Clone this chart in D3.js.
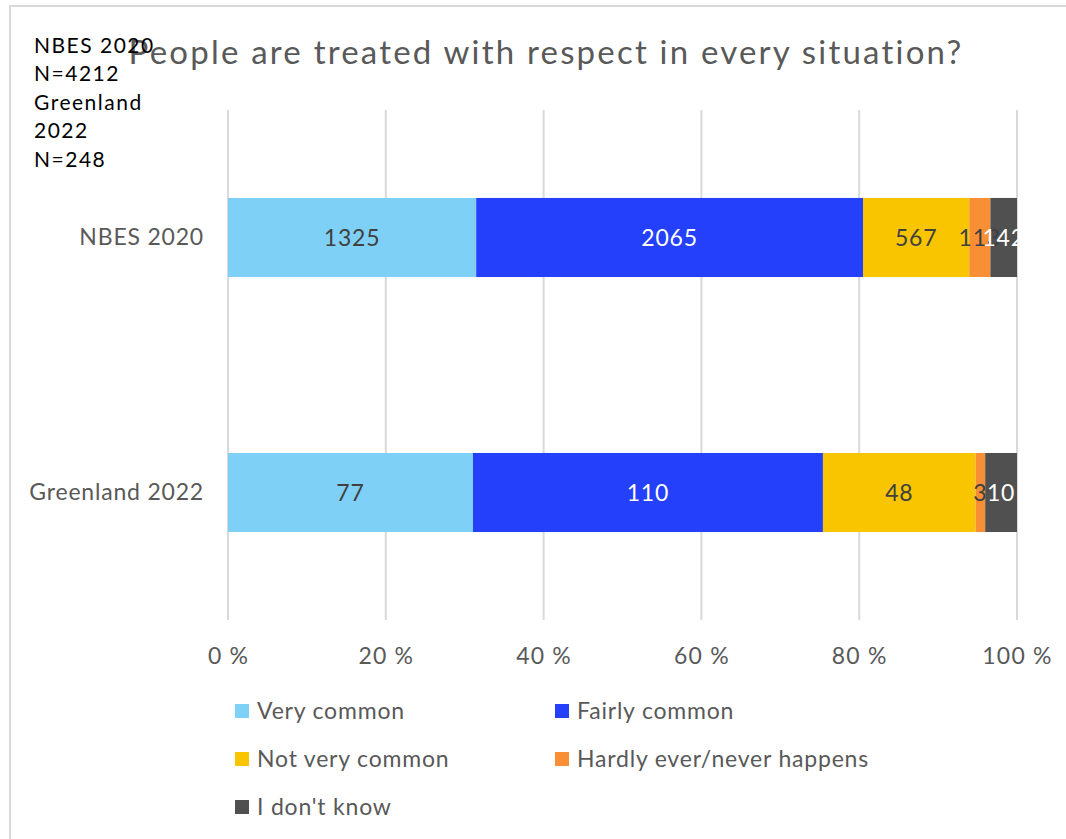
<!DOCTYPE html>
<html>
<head>
<meta charset="utf-8">
<script src="https://cdn.jsdelivr.net/npm/d3@7"></script>
<style>
  html, body { margin: 0; padding: 0; background: #fff; }
  svg { display: block; font-family: Lato, sans-serif; }
</style>
</head>
<body>
<svg id="chart" width="1066" height="839"></svg>
<script>
// Survey responses: "People are treated with respect in every situation?"
const groups = ["NBES 2020", "Greenland 2022"];
const answers = ["Very common", "Fairly common", "Not very common", "Hardly ever/never happens", "I don't know"];
const nbes2020 = [1325, 2065, 567, 113, 142];
const greenland2022 = [77, 110, 48, 3, 10];
const tickValues = [0, 0.2, 0.4, 0.6, 0.8, 1.0];
const noteLines = ["NBES 2020", "N=4212", "Greenland", "2022", "N=248"];
const titleText = "People are treated with respect in every situation?";

const colors = ["#7fd0f6", "#2440fb", "#f8c500", "#f88f35", "#505050"];
const labelColors = ["#404040", "#ffffff", "#404040", "#404040", "#ffffff"];

const FONT = "Lato, sans-serif";
const FS = 23;
const LS = 0.8;

const counts = [nbes2020, greenland2022];
const rows = groups.map((g, i) => {
  const total = d3.sum(counts[i]);
  let acc = 0;
  return counts[i].map((v, j) => {
    const seg = { group: g, answer: answers[j], idx: j, value: v, x0: acc / total, x1: (acc + v) / total };
    acc += v;
    return seg;
  });
});

const svg = d3.select("#chart");
const plot = { left: 228, right: 1017, top: 110, bottom: 620 };

// chart frame
svg.append("rect")
  .attr("x", 10).attr("y", 6).attr("width", 1070).attr("height", 850)
  .attr("fill", "#fff").attr("stroke", "#d9d9d9").attr("stroke-width", 2);

const x = d3.scaleLinear().domain([0, 1]).range([plot.left, plot.right]);
const y = d3.scaleBand().domain(groups).range([plot.top, plot.bottom]).paddingInner(0.69).paddingOuter(0.345);

// vertical gridlines
svg.append("g").selectAll("line").data(tickValues).join("line")
  .attr("x1", d => x(d)).attr("x2", d => x(d))
  .attr("y1", plot.top).attr("y2", plot.bottom)
  .attr("stroke", "#d9d9d9").attr("stroke-width", 2);

// x axis tick labels
const xAxis = d3.axisBottom(x).tickValues(tickValues).tickSize(0).tickPadding(0)
  .tickFormat(d => Math.round(d * 100) + " %");
const gx = svg.append("g").attr("transform", `translate(0,${plot.bottom + 44})`).call(xAxis);
gx.select(".domain").remove();
gx.selectAll("text").attr("fill", "#595959").attr("font-size", FS).attr("font-family", FONT)
  .attr("letter-spacing", 1.2).attr("dy", 0);

// y axis category labels
const yAxis = d3.axisLeft(y).tickSize(0).tickPadding(24);
const gy = svg.append("g").attr("transform", `translate(${plot.left},0)`).call(yAxis);
gy.select(".domain").remove();
gy.selectAll("text").attr("fill", "#595959").attr("font-size", FS).attr("font-family", FONT)
  .attr("letter-spacing", LS);

// stacked bars
const segs = rows.flat();
svg.append("g").selectAll("rect").data(segs).join("rect")
  .attr("x", d => x(d.x0)).attr("width", d => x(d.x1) - x(d.x0))
  .attr("y", d => y(d.group)).attr("height", y.bandwidth())
  .attr("fill", d => colors[d.idx]);

// data labels
svg.append("g").selectAll("text").data(segs).join("text")
  .attr("x", d => (x(d.x0) + x(d.x1)) / 2)
  .attr("y", d => y(d.group) + y.bandwidth() / 2)
  .attr("dy", "0.35em")
  .attr("text-anchor", "middle")
  .attr("font-size", FS)
  .attr("letter-spacing", LS)
  .attr("fill", d => labelColors[d.idx])
  .text(d => d.value);

// title
svg.append("text")
  .attr("x", 546).attr("y", 64)
  .attr("text-anchor", "middle")
  .attr("font-size", 33).attr("letter-spacing", 2.2).attr("fill", "#595959")
  .text(titleText);

// sample size note
svg.append("g").selectAll("text").data(noteLines).join("text")
  .attr("x", 34).attr("y", (d, i) => 53 + i * 28.4)
  .attr("font-size", 21).attr("letter-spacing", 1.5).attr("fill", "#000")
  .text(d => d);

// legend
const legendPos = [[235, 711], [555, 711], [235, 759], [555, 759], [235, 807]];
const lg = svg.append("g").selectAll("g").data(answers).join("g")
  .attr("transform", (d, i) => `translate(${legendPos[i][0]},${legendPos[i][1]})`);
lg.append("rect").attr("x", 0).attr("y", -7).attr("width", 14).attr("height", 14)
  .attr("fill", (d, i) => colors[i]);
lg.append("text").attr("x", 22).attr("y", 0).attr("dy", "0.35em")
  .attr("font-size", FS).attr("letter-spacing", LS).attr("fill", "#595959")
  .text(d => d);
</script>
</body>
</html>
